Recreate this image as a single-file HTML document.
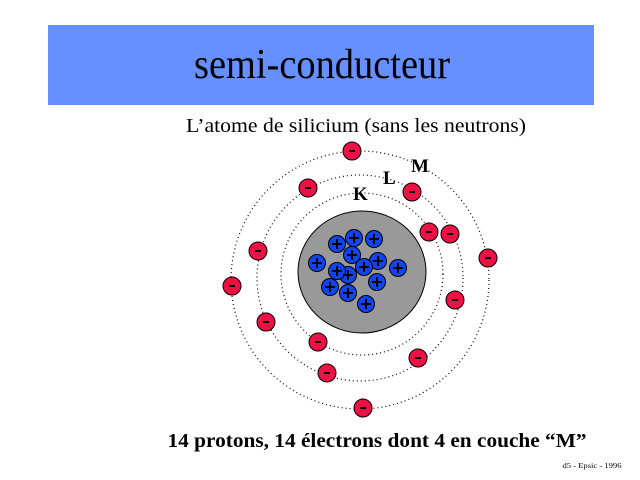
<!DOCTYPE html>
<html><head><meta charset="utf-8"><style>html,body{margin:0;padding:0;background:#fff}svg{display:block}</style></head>
<body>
<svg width="640" height="480" viewBox="0 0 640 480" xmlns="http://www.w3.org/2000/svg" font-family="'Liberation Serif', serif">
<rect x="48" y="25" width="546" height="80" fill="#6690ff"/>
<text x="322" y="78" font-size="42" text-anchor="middle" textLength="256" lengthAdjust="spacingAndGlyphs">semi-conducteur</text>
<text x="356" y="132" font-size="20" text-anchor="middle" textLength="340" lengthAdjust="spacingAndGlyphs">L’atome de silicium (sans les neutrons)</text>
<g fill="none" stroke="#000" stroke-width="1.2" stroke-dasharray="1 3">
<circle cx="362" cy="274" r="81"/>
<circle cx="360" cy="278" r="103"/>
<circle cx="360" cy="280" r="129"/>
</g>
<ellipse cx="362" cy="272" rx="64" ry="61" fill="#999" stroke="#000" stroke-width="1"/>
<g font-weight="bold" font-size="19">
<text x="353" y="200">K</text><text x="383" y="184">L</text><text x="411" y="172">M</text>
</g>
<g fill="#1144ee" stroke="#000" stroke-width="1">
<circle cx="354" cy="238" r="8.5"/><circle cx="374" cy="239" r="8.5"/><circle cx="337" cy="244" r="8.5"/>
<circle cx="317" cy="263" r="8.5"/><circle cx="348" cy="275" r="8.5"/><circle cx="337" cy="271" r="8.5"/>
<circle cx="352" cy="255" r="8.5"/><circle cx="378" cy="261" r="8.5"/><circle cx="364" cy="267" r="8.5"/>
<circle cx="398" cy="268" r="8.5"/><circle cx="330" cy="287" r="8.5"/><circle cx="377" cy="282" r="8.5"/>
<circle cx="348" cy="293" r="8.5"/><circle cx="366" cy="304" r="8.5"/>
</g>
<g stroke="#000" stroke-width="2">
<path d="M349 238h10M354 233v10M369 239h10M374 234v10M332 244h10M337 239v10M312 263h10M317 258v10M343 275h10M348 270v10M332 271h10M337 266v10M347 255h10M352 250v10M373 261h10M378 256v10M359 267h10M364 262v10M393 268h10M398 263v10M325 287h10M330 282v10M372 282h10M377 277v10M343 293h10M348 288v10M361 304h10M366 299v10"/>
</g>
<g fill="#ee1144" stroke="#000" stroke-width="1">
<circle cx="352" cy="151" r="9"/><circle cx="308" cy="188" r="9"/><circle cx="412" cy="192" r="9"/>
<circle cx="429" cy="232" r="9"/><circle cx="450" cy="234" r="9"/><circle cx="488" cy="258" r="9"/>
<circle cx="258" cy="251" r="9"/><circle cx="232" cy="286" r="9"/><circle cx="455" cy="300" r="9"/>
<circle cx="266" cy="322" r="9"/><circle cx="318" cy="342" r="9"/><circle cx="418" cy="358" r="9"/>
<circle cx="327" cy="373" r="9"/><circle cx="363" cy="408" r="9"/>
</g>
<g stroke="#000" stroke-width="2">
<path d="M349 151h6M305 188h6M409 192h6M426 232h6M447 234h6M485 258h6M255 251h6M229 286h6M452 300h6M263 322h6M315 342h6M415 358h6M324 373h6M360 408h6"/>
</g>
<text x="377" y="447" font-size="20" font-weight="bold" text-anchor="middle" textLength="419" lengthAdjust="spacingAndGlyphs">14 protons, 14 électrons dont 4 en couche “M”</text>
<text x="592" y="468" font-size="7" text-anchor="middle" textLength="59" lengthAdjust="spacingAndGlyphs">d5 - Epsic - 1996</text>
</svg>
</body></html>
